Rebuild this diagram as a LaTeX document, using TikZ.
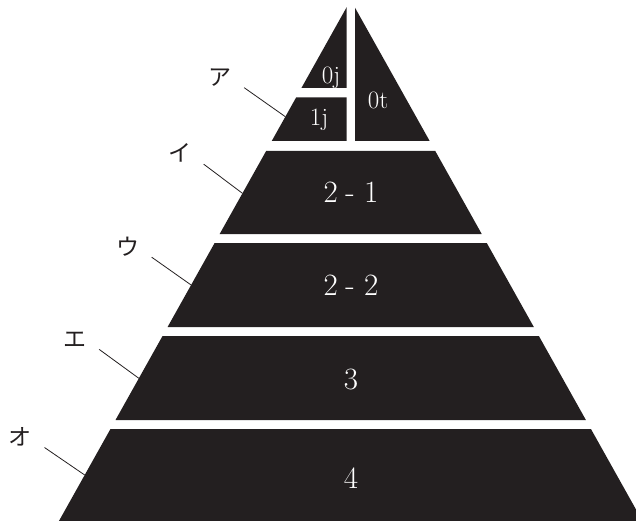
\documentclass[tikz,border=0pt]{standalone}
\usepackage{fontspec}
\newfontfamily\kanafont{Noto Sans CJK JP}
\definecolor{inkblack}{RGB}{35,31,32}
\usetikzlibrary{calc}

\begin{document}
\begin{tikzpicture}[
    x=1pt, y=-1pt,
    layer/.style={fill=inkblack},
    biglabel/.style={text=white, anchor=base, font=\fontsize{31}{31}\selectfont},
    smalllabel/.style={text=white, anchor=base, font=\fontsize{25}{25}\selectfont},
    kana/.style={text=inkblack, inner xsep=12.5pt, inner ysep=1pt, text height=16pt, text depth=1pt, font=\kanafont\fontsize{23}{23}\selectfont},
    leader/.style={draw=inkblack, line width=0.8pt}
]
    \useasboundingbox (0,0) rectangle (636,521);
    \clip (0,0) rectangle (636,521);

    % top: 0j, 1j and 0t
    \fill[layer] (346.7,7.1) -- (346.7,88) -- ({350.7-0.56*88},88) -- cycle;
    \fill[layer] (346.7,97.5) -- (346.7,141) -- ({350.7-0.56*141},141) -- ({350.7-0.56*97.5},97.5) -- cycle;
    \fill[layer] (355,7.7) -- ({350.7+0.56*141},141) -- (355,141) -- cycle;

    % lower layers
    \foreach \t/\b in {151/234, 243/327, 336/420, 429/530}
        \fill[layer] ({350.7-0.56*\t},\t) -- ({350.7+0.56*\t},\t) -- ({350.7+0.56*\b},\b) -- ({350.7-0.56*\b},\b) -- cycle;

    \node[smalllabel] (l0j) at (331,83.3) {0j};
    \node[smalllabel] (l0t) at (378,108.3) {0t};
    \node[smalllabel] (l1j) at (319,125.7) {1j};
    \node[biglabel] (l21) at (351,202.7) {2\hspace{0.24em}-\hspace{0.3em}1};
    \node[biglabel] (l22) at (351,295) {2\hspace{0.24em}-\hspace{0.3em}2};
    \node[biglabel] (l3) at (351,389) {3};
    \node[biglabel] (l4) at (351,488) {4};

    \node[kana] (la) at (220,78) {ア};
    \node[kana] (li) at (179.5,154.5) {イ};
    \node[kana] (lu) at (127.5,247.5) {ウ};
    \node[kana] (le) at (75,339.7) {エ};
    \node[kana] (lo) at (20.3,437.8) {オ};

    \coordinate (ea) at ({350.7-0.56*116.7},116.7);
    \coordinate (ei) at ({350.7-0.56*193.3},193.3);
    \coordinate (eu) at ({350.7-0.56*285},285);
    \coordinate (ee) at ({350.7-0.56*378.3},378.3);
    \coordinate (eo) at ({350.7-0.56*475},475);

    \draw[leader] (la.south east) -- (ea);
    \draw[leader] (li.south east) -- (ei);
    \draw[leader] (lu.south east) -- (eu);
    \draw[leader] (le.south east) -- (ee);
    \draw[leader] (lo.south east) -- (eo);
\end{tikzpicture}
\end{document}
